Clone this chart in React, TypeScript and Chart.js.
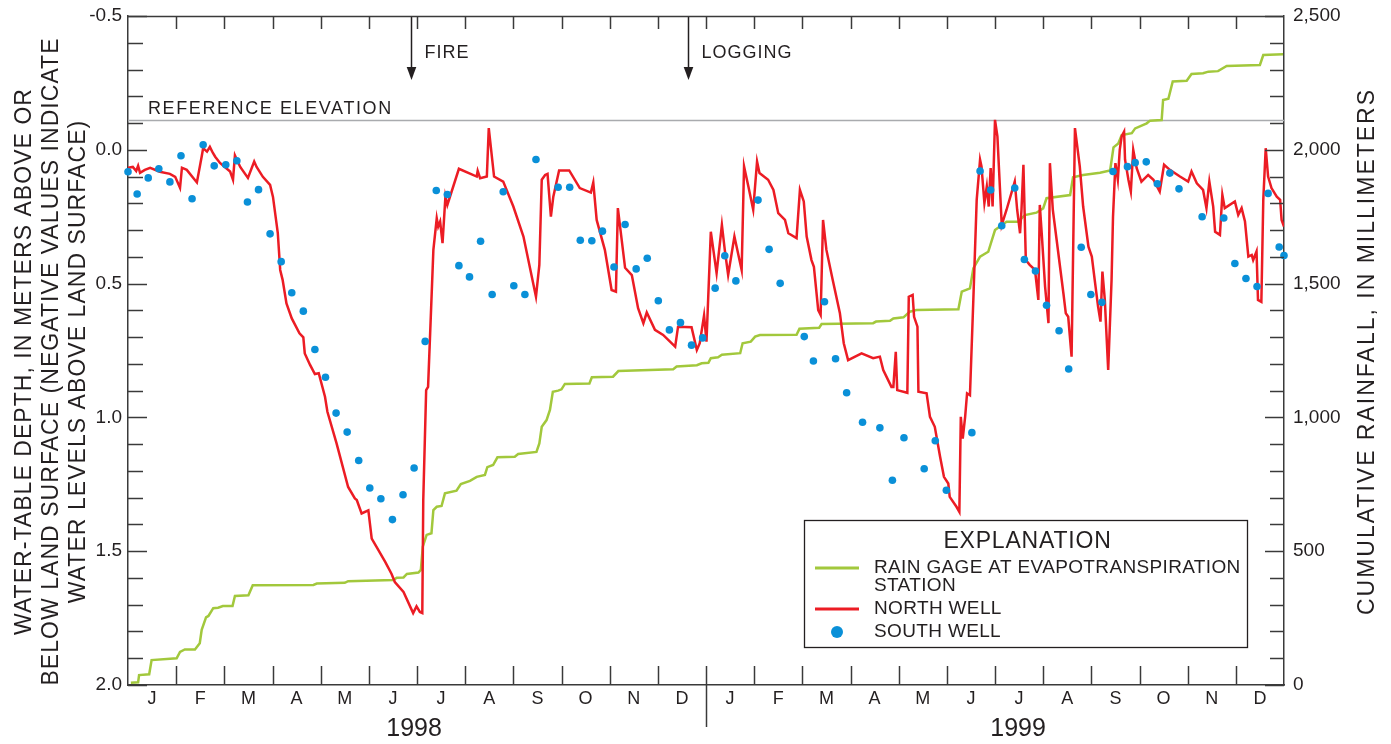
import React, { useEffect, useRef } from 'react';
import { Chart, registerables } from 'chart.js';

Chart.register(...registerables);

// ---------------- data ----------------
const MONTH_LABELS = ['J', 'F', 'M', 'A', 'M', 'J', 'J', 'A', 'S', 'O', 'N', 'D', 'J', 'F', 'M', 'A', 'M', 'J', 'J', 'A', 'S', 'O', 'N', 'D'];
const YEAR_LABELS = ['1998', '1999'];
const DEPTH_TICKS = [-0.5, 0, 0.5, 1.0, 1.5, 2.0];
const RAIN_TICKS = [0, 500, 1000, 1500, 2000, 2500];
const REFERENCE_ELEVATION = -0.11;
const EVENT_LABELS = ['FIRE', 'LOGGING'];
const EVENT_MONTHS = [5.875, 11.62];

const LEFT_TITLE = [
  'WATER-TABLE DEPTH, IN METERS ABOVE OR',
  'BELOW LAND SURFACE (NEGATIVE VALUES INDICATE',
  'WATER LEVELS ABOVE LAND SURFACE)',
];
const RIGHT_TITLE = 'CUMULATIVE RAINFALL, IN MILLIMETERS';
const LEGEND_TITLE = 'EXPLANATION';
const RAIN_LABEL = ['RAIN GAGE AT EVAPOTRANSPIRATION', 'STATION'];
const NORTH_LABEL = ['NORTH WELL'];
const SOUTH_LABEL = ['SOUTH WELL'];

// [month since 1 Jan 1998, depth (m)]
const NORTH_WELL: [number, number][] = [
  [0.00, 0.067], [0.10, 0.064], [0.17, 0.079], [0.21, 0.060], [0.25, 0.086], [0.35, 0.075], [0.46, 0.067], [0.66, 0.082],
  [0.87, 0.090], [0.98, 0.101], [1.08, 0.142], [1.12, 0.067], [1.22, 0.075], [1.43, 0.122], [1.53, 0.025], [1.56, -0.006],
  [1.64, 0.007], [1.70, -0.011], [1.76, 0.011], [1.81, 0.026], [1.91, 0.049], [2.12, 0.081], [2.18, 0.112], [2.22, 0.021],
  [2.33, 0.064], [2.49, 0.105], [2.62, 0.044], [2.67, 0.064], [2.80, 0.101], [2.95, 0.131], [3.01, 0.176], [3.11, 0.311],
  [3.16, 0.449], [3.21, 0.486], [3.29, 0.574], [3.40, 0.630], [3.56, 0.686], [3.64, 0.701], [3.67, 0.761], [3.78, 0.804],
  [3.88, 0.838], [3.96, 0.835], [4.09, 0.923], [4.14, 0.979], [4.33, 1.097], [4.57, 1.260], [4.71, 1.303], [4.75, 1.309],
  [4.85, 1.359], [4.99, 1.347], [5.06, 1.453], [5.16, 1.484], [5.34, 1.540], [5.47, 1.584], [5.54, 1.615], [5.72, 1.652],
  [5.92, 1.731], [5.99, 1.706], [6.06, 1.727], [6.11, 1.731], [6.13, 1.309], [6.19, 0.898], [6.23, 0.886], [6.34, 0.374],
  [6.41, 0.256], [6.44, 0.287], [6.48, 0.268], [6.53, 0.349], [6.59, 0.175], [6.63, 0.206], [6.87, 0.071], [7.24, 0.100],
  [7.26, 0.079], [7.31, 0.106], [7.45, 0.100], [7.49, -0.081], [7.60, 0.100], [7.79, 0.119], [8.00, 0.212], [8.21, 0.324],
  [8.47, 0.549], [8.54, 0.430], [8.59, 0.112], [8.66, 0.094], [8.71, 0.090], [8.78, 0.250], [8.83, 0.175], [8.95, 0.077],
  [9.16, 0.077], [9.38, 0.143], [9.61, 0.160], [9.66, 0.122], [9.73, 0.262], [9.90, 0.374], [10.04, 0.524], [10.13, 0.530],
  [10.17, 0.218], [10.32, 0.441], [10.46, 0.468], [10.59, 0.592], [10.70, 0.648], [10.77, 0.608], [10.94, 0.673], [11.11, 0.692],
  [11.36, 0.736], [11.42, 0.661], [11.70, 0.663], [11.81, 0.748], [11.87, 0.723], [11.96, 0.619], [12.01, 0.717], [12.10, 0.306],
  [12.22, 0.461], [12.33, 0.281], [12.39, 0.374], [12.46, 0.468], [12.59, 0.324], [12.74, 0.449], [12.79, 0.062], [12.88, 0.137],
  [12.98, 0.224], [13.06, 0.044], [13.11, 0.087], [13.29, 0.112], [13.40, 0.150], [13.50, 0.237], [13.64, 0.262], [13.71, 0.312],
  [13.88, 0.330], [13.95, 0.150], [14.03, 0.193], [14.09, 0.324], [14.19, 0.412], [14.24, 0.437], [14.33, 0.599], [14.38, 0.617],
  [14.43, 0.262], [14.50, 0.374], [14.63, 0.486], [14.78, 0.611], [14.86, 0.723], [14.95, 0.786], [15.23, 0.761], [15.47, 0.779],
  [15.61, 0.773], [15.68, 0.823], [15.85, 0.886], [15.89, 0.886], [15.94, 0.755], [15.97, 0.898], [16.18, 0.908], [16.21, 0.549],
  [16.29, 0.542], [16.32, 0.624], [16.39, 0.661], [16.41, 0.904], [16.58, 0.910], [16.65, 0.998], [16.75, 1.035], [16.86, 1.147],
  [16.94, 1.222], [17.03, 1.247], [17.06, 1.297], [17.20, 1.334], [17.26, 1.353], [17.29, 0.998], [17.33, 1.079], [17.38, 0.998],
  [17.42, 0.910], [17.48, 0.917], [17.55, 0.561], [17.62, 0.187], [17.69, 0.037], [17.72, 0.062], [17.78, 0.199], [17.83, 0.137],
  [17.87, 0.212], [17.91, 0.068], [17.95, 0.212], [18.00, -0.112], [18.05, -0.050], [18.14, 0.281], [18.24, 0.224], [18.41, 0.119],
  [18.46, 0.224], [18.52, 0.312], [18.55, 0.224], [18.59, 0.056], [18.64, 0.412], [18.72, 0.430], [18.83, 0.449], [18.90, 0.561],
  [18.93, 0.206], [18.97, 0.312], [19.04, 0.511], [19.11, 0.648], [19.14, 0.050], [19.20, 0.224], [19.28, 0.337], [19.42, 0.536],
  [19.47, 0.611], [19.52, 0.624], [19.59, 0.773], [19.66, -0.081], [19.76, 0.062], [19.83, 0.212], [19.94, 0.362], [20.01, 0.399],
  [20.07, 0.486], [20.14, 0.586], [20.19, 0.642], [20.23, 0.455], [20.28, 0.561], [20.35, 0.823], [20.42, 0.486], [20.45, 0.250],
  [20.50, 0.050], [20.55, 0.112], [20.59, 0.000], [20.63, -0.050], [20.68, -0.068], [20.70, 0.037], [20.77, 0.112], [20.82, 0.156],
  [20.87, 0.000], [20.94, 0.068], [21.04, 0.119], [21.18, 0.094], [21.29, 0.112], [21.42, 0.156], [21.51, 0.056], [21.63, 0.075],
  [21.84, 0.100], [22.01, 0.119], [22.08, 0.081], [22.19, 0.125], [22.32, 0.150], [22.39, 0.218], [22.45, 0.119], [22.53, 0.212],
  [22.57, 0.306], [22.67, 0.318], [22.72, 0.168], [22.77, 0.218], [22.98, 0.193], [23.05, 0.243], [23.12, 0.218], [23.19, 0.268],
  [23.26, 0.399], [23.33, 0.393], [23.36, 0.412], [23.43, 0.380], [23.46, 0.561], [23.53, 0.568], [23.57, 0.187], [23.62, -0.006],
  [23.67, 0.100], [23.74, 0.143], [23.85, 0.175], [23.92, 0.187], [23.95, 0.262], [24.00, 0.287],
];

// [month, depth (m)]
const SOUTH_WELL: [number, number][] = [
  [0.00, 0.082], [0.19, 0.165], [0.42, 0.105], [0.64, 0.071], [0.87, 0.120], [1.10, 0.022], [1.33, 0.183], [1.56, -0.019],
  [1.79, 0.060], [2.03, 0.056], [2.26, 0.041], [2.48, 0.195], [2.71, 0.149], [2.95, 0.314], [3.18, 0.418], [3.40, 0.534],
  [3.64, 0.603], [3.88, 0.746], [4.10, 0.850], [4.32, 0.984], [4.55, 1.055], [4.79, 1.161], [5.02, 1.264], [5.25, 1.304],
  [5.49, 1.382], [5.71, 1.289], [5.94, 1.189], [6.17, 0.716], [6.40, 0.152], [6.63, 0.167], [6.87, 0.433], [7.09, 0.475],
  [7.32, 0.342], [7.56, 0.541], [7.79, 0.157], [8.01, 0.508], [8.24, 0.541], [8.47, 0.036], [8.93, 0.140], [9.17, 0.140],
  [9.39, 0.338], [9.63, 0.340], [9.85, 0.304], [10.09, 0.438], [10.32, 0.279], [10.55, 0.445], [10.78, 0.405], [11.01, 0.564],
  [11.24, 0.673], [11.47, 0.646], [11.70, 0.730], [11.93, 0.703], [12.19, 0.517], [12.39, 0.396], [12.62, 0.490], [13.08, 0.188],
  [13.31, 0.372], [13.54, 0.499], [14.04, 0.698], [14.23, 0.789], [14.46, 0.568], [14.69, 0.781], [14.92, 0.908], [15.25, 1.018],
  [15.61, 1.039], [15.87, 1.235], [16.11, 1.076], [16.53, 1.192], [16.76, 1.087], [16.99, 1.272], [17.52, 1.057], [17.69, 0.079],
  [17.91, 0.150], [18.14, 0.284], [18.41, 0.143], [18.61, 0.410], [18.84, 0.453], [19.07, 0.581], [19.33, 0.676], [19.53, 0.819],
  [19.79, 0.364], [19.99, 0.541], [20.22, 0.570], [20.45, 0.081], [20.75, 0.063], [20.91, 0.048], [21.14, 0.045], [21.37, 0.127],
  [21.63, 0.087], [21.82, 0.146], [22.30, 0.250], [22.75, 0.255], [22.98, 0.425], [23.21, 0.481], [23.44, 0.511], [23.67, 0.163],
  [23.90, 0.363], [24.00, 0.395],
];

// [month, cumulative rainfall (mm)]
const RAIN_GAGE: [number, number][] = [
  [0.06, 8], [0.21, 10], [0.23, 37], [0.44, 40], [0.49, 93], [1.01, 100], [1.08, 124], [1.18, 133], [1.39, 133], [1.49, 156],
  [1.53, 206], [1.62, 253], [1.67, 258], [1.77, 287], [1.87, 289], [1.97, 295], [2.17, 295], [2.22, 333], [2.50, 335], [2.59, 373],
  [3.85, 374], [3.92, 379], [4.50, 382], [4.57, 388], [5.51, 392], [5.58, 401], [5.72, 402], [5.79, 415], [6.03, 420], [6.08, 430],
  [6.12, 517], [6.20, 561], [6.30, 567], [6.34, 654], [6.41, 666], [6.51, 669], [6.58, 716], [6.82, 726], [6.91, 751], [7.10, 763],
  [7.24, 778], [7.41, 785], [7.46, 814], [7.58, 822], [7.67, 851], [8.03, 853], [8.10, 863], [8.48, 871], [8.54, 903], [8.59, 965],
  [8.69, 990], [8.76, 1028], [8.82, 1096], [8.93, 1100], [9.00, 1105], [9.07, 1125], [9.58, 1127], [9.63, 1150], [10.07, 1152], [10.18, 1173],
  [11.32, 1180], [11.39, 1190], [11.81, 1195], [11.91, 1202], [12.05, 1204], [12.10, 1221], [12.25, 1225], [12.33, 1234], [12.71, 1240], [12.76, 1277],
  [12.93, 1283], [13.02, 1302], [13.12, 1308], [13.88, 1309], [13.94, 1331], [14.35, 1335], [14.40, 1349], [15.47, 1352], [15.53, 1358], [15.82, 1361],
  [15.89, 1370], [16.10, 1374], [16.23, 1395], [16.37, 1401], [17.24, 1404], [17.31, 1470], [17.48, 1482], [17.55, 1557], [17.69, 1601], [17.86, 1619],
  [18.00, 1700], [18.10, 1713], [18.24, 1731], [18.48, 1731], [18.62, 1756], [18.86, 1765], [19.00, 1781], [19.07, 1819], [19.56, 1831], [19.62, 1897],
  [19.83, 1906], [20.18, 1914], [20.39, 1923], [20.46, 2009], [20.56, 2024], [20.63, 2055], [20.84, 2062], [20.91, 2080], [21.15, 2099], [21.22, 2109],
  [21.46, 2111], [21.49, 2186], [21.60, 2191], [21.69, 2255], [21.98, 2258], [22.08, 2283], [22.32, 2286], [22.43, 2292], [22.63, 2294], [22.81, 2313],
  [23.50, 2317], [23.57, 2354], [23.98, 2357],
];

// ---------------- styles ----------------
const INK = '#231f20';
const AXIS = '#3a3a3a';
const RED = '#ec1c24';
const GREEN = '#a2c83c';
const BLUE = '#0a90d8';
const FAMILY = '"Liberation Sans", Arial, Helvetica, sans-serif';

const annotations = {
  id: 'annotations',
  beforeDatasetsDraw(chart: any) {
    const { ctx, chartArea: ca, scales } = chart;
    const x = scales.x;
    const y = scales.y;
    ctx.save();
    // reference elevation
    const ry = Math.round(y.getPixelForValue(REFERENCE_ELEVATION)) + 0.5;
    ctx.strokeStyle = '#a9abae';
    ctx.lineWidth = 1.5;
    ctx.beginPath();
    ctx.moveTo(ca.left, ry);
    ctx.lineTo(ca.right, ry);
    ctx.stroke();
    ctx.fillStyle = INK;
    ctx.font = `18px ${FAMILY}`;
    (ctx as any).letterSpacing = '1.6px';
    ctx.textAlign = 'left';
    ctx.textBaseline = 'alphabetic';
    ctx.fillText('REFERENCE ELEVATION', ca.left + 20, ry - 7);
    // event arrows
    (ctx as any).letterSpacing = '1px';
    ctx.strokeStyle = INK;
    ctx.lineWidth = 1.5;
    EVENT_MONTHS.forEach((m, i) => {
      const px = Math.round(x.getPixelForValue(m)) + 0.5;
      ctx.beginPath();
      ctx.moveTo(px, ca.top);
      ctx.lineTo(px, ca.top + 56);
      ctx.stroke();
      ctx.beginPath();
      ctx.moveTo(px - 4.8, ca.top + 51);
      ctx.lineTo(px + 4.8, ca.top + 51);
      ctx.lineTo(px, ca.top + 64);
      ctx.closePath();
      ctx.fill();
      ctx.textBaseline = 'middle';
      ctx.fillText(EVENT_LABELS[i], px + 13, ca.top + 37);
    });
    ctx.restore();
  },
  afterDraw(chart: any) {
    const { ctx, chartArea: ca, scales } = chart;
    const x = scales.x;
    const y = scales.y;
    const y2 = scales.y2;
    ctx.save();
    ctx.strokeStyle = AXIS;
    ctx.lineWidth = 1.5;
    // top border
    ctx.beginPath();
    ctx.moveTo(ca.left, ca.top + 0.5);
    ctx.lineTo(ca.right, ca.top + 0.5);
    ctx.stroke();
    // month ticks top & bottom
    for (let i = 1; i < MONTH_LABELS.length; i++) {
      const px = Math.round(x.getPixelForValue(i)) + 0.5;
      ctx.beginPath();
      ctx.moveTo(px, ca.top);
      ctx.lineTo(px, ca.top + 13);
      ctx.stroke();
      ctx.beginPath();
      ctx.moveTo(px, ca.bottom);
      ctx.lineTo(px, ca.bottom - 19);
      ctx.stroke();
    }
    // year separator
    const sep = Math.round(x.getPixelForValue(12)) + 0.5;
    ctx.beginPath();
    ctx.moveTo(sep, ca.bottom);
    ctx.lineTo(sep, ca.bottom + 42);
    ctx.stroke();
    // depth ticks (every 0.1)
    for (let k = -5; k <= 20; k++) {
      const py = Math.round(y.getPixelForValue(k / 10)) + 0.5;
      const len = k % 5 === 0 ? 19 : 15;
      ctx.beginPath();
      ctx.moveTo(ca.left, py);
      ctx.lineTo(ca.left + len, py);
      ctx.stroke();
    }
    // rain ticks (every 100)
    for (let v = 0; v <= 2500; v += 100) {
      const py = Math.round(y2.getPixelForValue(v)) + 0.5;
      const len = v % 500 === 0 ? 19 : 14;
      ctx.beginPath();
      ctx.moveTo(ca.right, py);
      ctx.lineTo(ca.right - len, py);
      ctx.stroke();
    }
    // year labels
    ctx.fillStyle = INK;
    ctx.font = `25px ${FAMILY}`;
    ctx.textAlign = 'center';
    ctx.textBaseline = 'middle';
    const yearPos = [5.94, 18.48];
    YEAR_LABELS.forEach((t, i) => ctx.fillText(t, x.getPixelForValue(yearPos[i]), ca.bottom + 44));

    // axis titles (both read bottom-to-top)
    ctx.font = `23px ${FAMILY}`;
    (ctx as any).letterSpacing = '1.05px';
    const leftX = [25, 52, 79];
    LEFT_TITLE.forEach((line, i) => {
      ctx.save();
      ctx.translate(leftX[i], (ca.top + ca.bottom) / 2 + 11);
      ctx.rotate(-Math.PI / 2);
      ctx.fillText(line, 0, 0);
      ctx.restore();
    });
    (ctx as any).letterSpacing = '2px';
    ctx.save();
    ctx.translate(1368, (ca.top + ca.bottom) / 2 + 1);
    ctx.rotate(-Math.PI / 2);
    ctx.fillText(RIGHT_TITLE, 0, 0);
    ctx.restore();
    (ctx as any).letterSpacing = '0px';

    // legend
    const bx = ca.right - 480;
    const bw = 443;
    const by = ca.bottom - 165;
    const bh = 127;
    ctx.fillStyle = '#ffffff';
    ctx.fillRect(bx, by, bw, bh);
    ctx.strokeStyle = INK;
    ctx.lineWidth = 1.3;
    ctx.strokeRect(bx + 0.5, by + 0.5, bw, bh);
    ctx.fillStyle = INK;
    ctx.font = `23px ${FAMILY}`;
    (ctx as any).letterSpacing = '0.8px';
    ctx.textAlign = 'center';
    ctx.fillText(LEGEND_TITLE, bx + bw / 2 + 2, by + 22);
    ctx.font = `19px ${FAMILY}`;
    (ctx as any).letterSpacing = '0.35px';
    ctx.textAlign = 'left';
    const tx = bx + 70;
    const entries = [
      { lines: RAIN_LABEL, y: by + 48, kind: 'line', color: GREEN },
      { lines: NORTH_LABEL, y: by + 89, kind: 'line', color: RED },
      { lines: SOUTH_LABEL, y: by + 112, kind: 'dot', color: BLUE },
    ];
    entries.forEach((e) => {
      if (e.kind === 'line') {
        ctx.strokeStyle = e.color;
        ctx.lineWidth = 3;
        ctx.beginPath();
        ctx.moveTo(bx + 11, e.y);
        ctx.lineTo(bx + 55, e.y);
        ctx.stroke();
      } else {
        ctx.fillStyle = e.color;
        ctx.beginPath();
        ctx.arc(bx + 33, e.y, 6, 0, Math.PI * 2);
        ctx.fill();
      }
      ctx.fillStyle = INK;
      e.lines.forEach((l, j) => ctx.fillText(l, tx, e.y + j * 18));
    });
    ctx.restore();
  },
};

const noPad = (s: any) => {
  s.paddingTop = 0;
  s.paddingBottom = 0;
};

export default function App() {
  const ref = useRef<HTMLCanvasElement | null>(null);
  useEffect(() => {
    if (!ref.current) return;
    const tickFont = { family: FAMILY, size: 19 };
    const chart = new Chart(ref.current, {
      type: 'line',
      data: {
        datasets: [
          {
            type: 'scatter',
            label: SOUTH_LABEL.join(' '),
            data: SOUTH_WELL.map(([m, d]) => ({ x: m, y: d })),
            yAxisID: 'y',
            pointRadius: 3.8,
            pointBackgroundColor: BLUE,
            pointBorderWidth: 0,
            showLine: false,
            order: 0,
            clip: 8,
          } as any,
          {
            label: NORTH_LABEL.join(' '),
            data: NORTH_WELL.map(([m, d]) => ({ x: m, y: d })),
            yAxisID: 'y',
            borderColor: RED,
            borderWidth: 2.5,
            pointRadius: 0,
            tension: 0,
            order: 1,
          },
          {
            label: RAIN_LABEL.join(' '),
            data: RAIN_GAGE.map(([m, r]) => ({ x: m, y: r })),
            yAxisID: 'y2',
            borderColor: GREEN,
            borderWidth: 2.5,
            pointRadius: 0,
            tension: 0,
            order: 2,
          },
        ],
      },
      options: {
        animation: false,
        responsive: true,
        maintainAspectRatio: false,
        devicePixelRatio: 1,
        layout: { padding: { top: 16, left: 0, right: 0, bottom: 0 } },
        plugins: { legend: { display: false }, tooltip: { enabled: false } },
        scales: {
          x: {
            type: 'linear',
            position: 'bottom',
            min: 0,
            max: 24,
            afterBuildTicks: (s: any) => {
              s.ticks = MONTH_LABELS.map((_, i) => ({ value: i + 0.5 }));
            },
            afterFit: (s: any) => {
              s.height = 59;
              s.paddingLeft = 0;
              s.paddingRight = 0;
            },
            ticks: {
              autoSkip: false,
              maxRotation: 0,
              padding: 3,
              font: { family: FAMILY, size: 18 },
              color: INK,
              callback: (_v: any, i: number) => MONTH_LABELS[i],
            },
            grid: { display: false, drawTicks: false },
            border: { display: true, color: AXIS, width: 1.5 },
          },
          y: {
            type: 'linear',
            position: 'left',
            reverse: true,
            min: -0.5,
            max: 2.0,
            afterBuildTicks: (s: any) => {
              s.ticks = DEPTH_TICKS.map((v) => ({ value: v }));
            },
            afterFit: (s: any) => {
              s.width = 128;
              noPad(s);
            },
            ticks: {
              padding: 6,
              font: tickFont,
              color: INK,
              callback: (v: any) => Number(v).toFixed(1),
            },
            grid: { display: false, drawTicks: false },
            border: { display: true, color: AXIS, width: 1.5 },
          },
          y2: {
            type: 'linear',
            position: 'right',
            min: 0,
            max: 2500,
            afterBuildTicks: (s: any) => {
              s.ticks = RAIN_TICKS.map((v) => ({ value: v }));
            },
            afterFit: (s: any) => {
              s.width = 107;
              noPad(s);
            },
            ticks: {
              padding: 9,
              font: tickFont,
              color: INK,
              callback: (v: any) => Number(v).toLocaleString('en-US'),
            },
            grid: { display: false, drawTicks: false },
            border: { display: true, color: AXIS, width: 1.5 },
          },
        },
      } as any,
      plugins: [annotations],
    });
    return () => chart.destroy();
  }, []);

  return (
    <div style={{ position: 'fixed', left: 0, top: 0, width: 1391, height: 744, background: '#ffffff' }}>
      <canvas ref={ref} />
    </div>
  );
}
